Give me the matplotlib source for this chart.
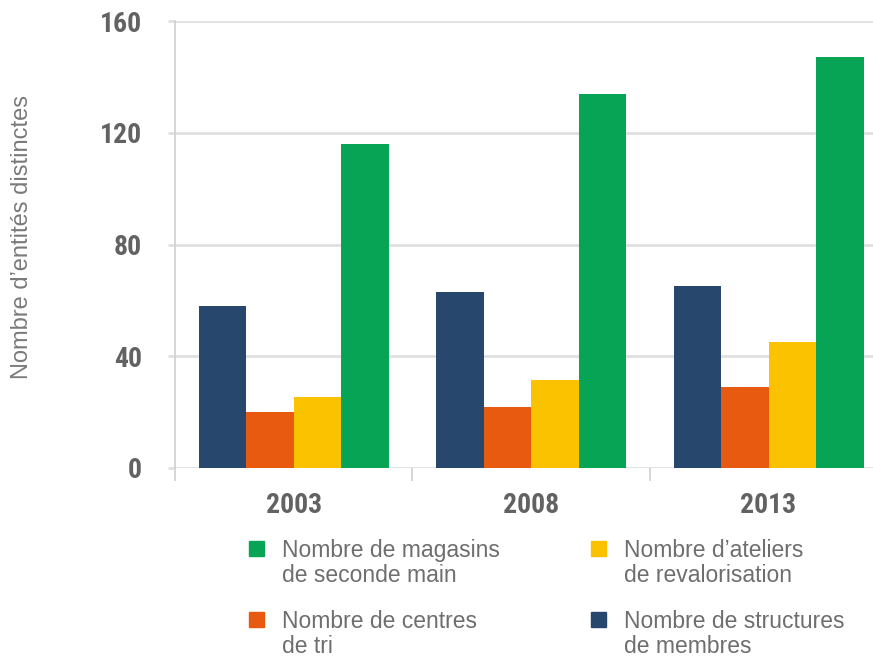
import numpy as np
import matplotlib
matplotlib.use("Agg")
from matplotlib import pyplot as plt
from matplotlib import patches

years = ["2003", "2008", "2013"]
structures = [58, 63, 65]
centres_tri = [20, 22, 29]
ateliers = [25.5, 31.5, 45]
magasins = [116, 134, 147]

series = [structures, centres_tri, ateliers, magasins]
colors = ["#27476d", "#e85a0f", "#fbc200", "#07a456"]
labels = ["Nombre de structures\nde membres", "Nombre de centres\nde tri",
          "Nombre d\u2019ateliers\nde revalorisation", "Nombre de magasins\nde seconde main"]
yticks = [0, 40, 80, 120, 160]

W, H = 873, 658
fig = plt.figure(figsize=(W / 100, H / 100), dpi=100)
ax = fig.add_axes([175 / W, (H - 468) / H, 1 - 175 / W, 447 / H])

x = np.arange(len(years))
width = 0.2
offsets = [-0.3, -0.1, 0.1, 0.3]
for vals, off, c in zip(series, offsets, colors):
    ax.bar(x + off, vals, width, color=c, zorder=3, linewidth=0)

ax.set_xlim(-0.5, 2.44)
ax.set_ylim(0, 160)
ax.set_yticks(yticks)
ax.set_yticklabels([str(t) for t in yticks])
ax.yaxis.grid(True, color="#e0e0e0", linewidth=2, zorder=0)
ax.set_axisbelow(True)

for s in ["top", "right", "bottom"]:
    ax.spines[s].set_visible(False)
ax.spines["left"].set_color("#d0d0d0")
ax.spines["left"].set_linewidth(1.2)

bold = ["Roboto Condensed", "DejaVu Sans"]
light = ["Liberation Sans", "DejaVu Sans"]
ax.tick_params(axis="y", length=5, width=2, color="#e0e0e0", pad=19,
               labelsize=20, labelcolor="#626262")
for lab in ax.get_yticklabels():
    lab.set_family(bold)
    lab.set_fontweight("bold")

ax.set_xticks(x)
ax.set_xticklabels(years)
ax.tick_params(axis="x", length=0, pad=17, labelsize=20, labelcolor="#626262")
for lab in ax.get_xticklabels():
    lab.set_family(bold)
    lab.set_fontweight("bold")
ax.set_xticks([-0.5, 0.5, 1.5], minor=True)
ax.tick_params(axis="x", which="minor", length=9, width=1.2, color="#d0d0d0")

ax.set_ylabel("Nombre d\u2019entit\u00e9s distinctes", fontsize=17,
              color="#7a7a7a", family=light)
ax.yaxis.set_label_coords(-0.203, 0.517)

# legend, two columns, squares and two text lines per entry
order = [3, 1, 2, 0]
for i, k in enumerate(order):
    col, row = i // 2, i % 2
    sx = 249 if col == 0 else 591
    sy = 541 + row * 71
    fig.patches.append(patches.Rectangle((sx / W, 1 - (sy + 15) / H), 15 / W, 15 / H,
                                         transform=fig.transFigure, color=colors[k]))
    for j, line in enumerate(labels[k].split("\n")):
        base = 557 + row * 71 + j * 25
        fig.text((sx + 33) / W, 1 - base / H, line, fontsize=16.5, color="#6e6e6e",
                 va="baseline", ha="left", family=light)

fig.savefig("out.png", dpi=100)
